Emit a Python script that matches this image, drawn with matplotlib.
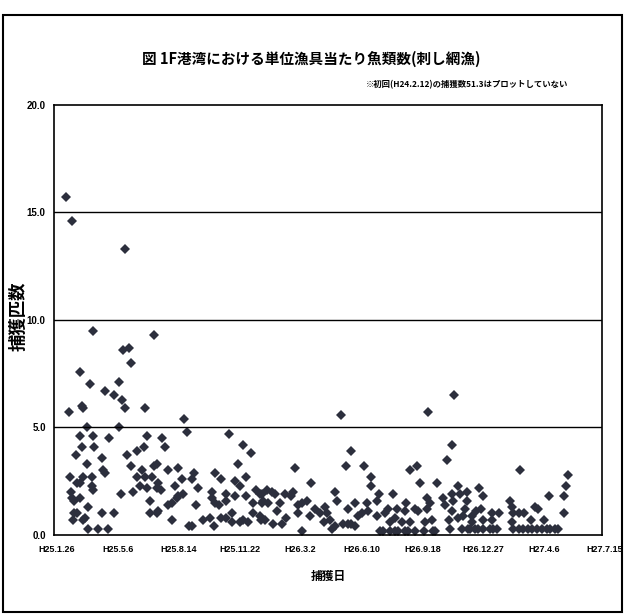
import numpy as np
import matplotlib
matplotlib.use("Agg")
import matplotlib.pyplot as plt
import matplotlib.dates as mdates
from matplotlib.patches import Rectangle
from matplotlib.transforms import ScaledTranslation

plt.rcParams['font.family'] = ['Noto Sans CJK JP', 'DejaVu Sans']

# days since H25.1.26 (2013-01-26) and fish count per unit gear
start = np.datetime64('2013-01-26')
catch_day = [
    19, 29, 117,
    64, 164, 114, 123, 126, 43, 59, 107, 84, 99, 112, 117, 46, 47, 25, 149,
    54, 106, 42, 64, 91, 153, 46, 65, 36, 78, 120, 137, 147,
    54, 81, 84, 126, 144, 164, 169, 27, 48, 62, 137, 149, 161,
    37, 43, 62, 64, 130, 141, 152, 169, 28, 110, 30, 33, 43, 157, 56,
    32, 37, 78, 99, 158, 169, 31, 48, 51, 56, 73, 88,
    213, 219, 178, 182, 288, 311, 323, 188, 204, 210, 230, 227, 171, 176, 199, 237,
    264, 275, 302, 297, 305, 315, 331, 342,
    202, 204, 212, 260, 259, 282, 282, 297, 316, 327, 341, 188, 193, 233, 264, 271,
    170, 193, 245, 256, 275, 282, 293, 293, 305, 311, 319, 327, 340, 221, 227, 262,
    471, 395, 487, 480, 509, 422, 461, 465, 338, 349, 358, 363, 379, 392, 390,
    344, 352, 371, 401, 408, 415,
    366, 401, 420, 429, 437, 445, 448, 443, 453, 483, 494, 500, 505, 514, 381,
    338, 347, 360, 374, 408, 456, 461, 474, 483, 487, 494,
    657, 614, 653, 645, 585, 596, 521, 521, 601, 629, 556, 533, 530, 612, 639, 642,
    654, 656, 664, 667, 678, 678,
    515, 530, 544, 549, 563, 560, 578, 576, 593, 597, 612, 618, 620, 648, 653, 664,
    672, 675, 686,
    535, 541, 552, 560, 565, 576, 582, 593, 607, 623, 626, 552, 571, 585, 609,
    650, 670, 680,
    765, 844, 841, 698, 705, 813, 838, 749, 752, 702, 693, 719, 730, 764, 772, 790,
    795, 754, 783, 804, 838, 705, 719, 686, 752,
    683, 691, 697, 705, 716, 721, 727, 754, 763, 771, 779, 785, 793, 801, 809, 815,
    823, 828,
]
catch_count = [
    15.7, 14.6, 13.3,
    9.5, 9.3, 8.6, 8.7, 8.0, 7.6, 7.0, 7.1, 6.7, 6.5, 6.3, 5.9, 6.0, 5.9, 5.7, 5.9,
    5.0, 5.0, 4.6, 4.6, 4.5, 4.6, 4.1, 4.1, 3.7, 3.6, 3.7, 3.9, 4.1,
    3.3, 3.0, 2.9, 3.2, 3.0, 3.2, 3.3, 2.7, 2.7, 2.7, 2.7, 2.7, 2.7,
    2.4, 2.4, 2.3, 2.1, 2.0, 2.3, 2.2, 2.2, 2.0, 1.9, 1.7, 1.6, 1.7, 1.6, 1.3,
    1.0, 1.0, 1.0, 1.0, 1.0, 1.0, 0.7, 0.7, 0.8, 0.3, 0.3, 0.3,
    5.4, 4.8, 4.5, 4.1, 4.7, 4.2, 3.8, 3.0, 3.1, 2.6, 2.9, 2.6, 2.4, 2.1, 2.3, 2.2,
    2.9, 2.6, 3.3, 2.5, 2.3, 2.7, 2.1, 1.9,
    1.7, 1.8, 1.9, 2.0, 1.7, 1.9, 1.6, 1.8, 1.8, 1.5, 1.5, 1.4, 1.5, 1.4, 1.5, 1.4,
    1.1, 0.7, 0.7, 0.8, 0.8, 0.8, 1.0, 0.6, 0.6, 0.7, 0.6, 1.0, 0.7, 0.4, 0.4, 0.4,
    5.6, 3.1, 3.9, 3.2, 3.2, 2.4, 2.0, 1.6, 1.9, 2.1, 2.0, 1.9, 1.9, 2.0, 1.8,
    1.6, 1.5, 1.5, 1.4, 1.5, 1.6,
    1.1, 1.0, 0.9, 1.2, 1.0, 1.3, 1.0, 0.6, 0.7, 1.2, 1.5, 0.9, 1.0, 1.5, 0.8,
    0.9, 0.7, 0.5, 0.5, 0.2, 0.3, 0.4, 0.5, 0.5, 0.5, 0.4,
    6.5, 5.7, 4.2, 3.5, 3.0, 3.2, 2.7, 2.3, 2.4, 2.4, 1.9, 1.9, 1.6, 1.7, 1.7, 1.4,
    1.9, 1.6, 2.3, 1.9, 2.0, 1.6,
    1.1, 0.9, 1.0, 1.2, 1.2, 0.8, 1.5, 1.1, 1.2, 1.1, 1.2, 1.5, 0.7, 0.7, 1.1, 0.8,
    0.9, 1.2, 0.9,
    0.2, 0.2, 0.2, 0.2, 0.2, 0.2, 0.2, 0.2, 0.2, 0.2, 0.2, 0.6, 0.6, 0.6, 0.6,
    0.3, 0.3, 0.3,
    3.0, 2.8, 2.3, 2.2, 1.8, 1.8, 1.8, 1.6, 1.3, 1.2, 1.1, 1.0, 1.0, 1.0, 1.0, 1.3,
    1.2, 1.0, 0.7, 0.7, 1.0, 0.7, 0.7, 0.6, 0.6,
    0.3, 0.3, 0.3, 0.3, 0.3, 0.3, 0.3, 0.3, 0.3, 0.3, 0.3, 0.3, 0.3, 0.3, 0.3, 0.3,
    0.3, 0.3,
]
y_ticks = [0.0, 5.0, 10.0, 15.0, 20.0]
tick_step_days = 100
n_ticks = 10

dates = start + np.array(catch_day).astype('timedelta64[D]')
tick_dates = start + (np.arange(n_ticks) * tick_step_days).astype('timedelta64[D]')


def heisei(x, pos=None):
    d = mdates.num2date(x)
    return "H%d.%d.%d" % (d.year - 1988, d.month, d.day)


fig = plt.figure(figsize=(6.26, 6.15), dpi=100)
ax = fig.add_axes([0.0863, 0.1301, 0.8754, 0.6992])

ax.plot(dates, catch_count, "D", color="#2c2f3d", markersize=5.4, markeredgewidth=0)

ax.set_xlim(tick_dates[0], tick_dates[-1])
ax.set_ylim(0, 20)
ax.set_xticks(tick_dates)
ax.xaxis.set_major_formatter(plt.FuncFormatter(heisei))
ax.set_yticks(y_ticks)
ax.set_yticklabels(["%.1f" % v for v in y_ticks])
for v in y_ticks[1:-1]:
    ax.axhline(v, color="black", lw=1.0)
ax.tick_params(axis="x", length=0, pad=7)
ax.tick_params(axis="y", length=0, pad=6)
for lab in ax.get_xticklabels():
    lab.set_family(['Liberation Sans', 'DejaVu Sans'])
    lab.set_fontweight('bold')
    lab.set_fontsize(6.5)
for lab in ax.get_yticklabels():
    lab.set_family(['Liberation Sans', 'DejaVu Sans'])
    lab.set_fontweight('bold')
    lab.set_fontsize(7)
shift = ScaledTranslation(3 / 100, 0, fig.dpi_scale_trans)
for lab in ax.get_xticklabels():
    lab.set_transform(lab.get_transform() + shift)
for s in ax.spines.values():
    s.set_linewidth(1.2)

fig.text(0.029, 0.485, "捕獲匹数", rotation=90, ha="center", va="center",
         fontsize=12.5, fontweight="bold")
ax.set_xlabel("捕獲日", fontsize=8.5, fontweight="bold", labelpad=12)

fig.text(0.497, 0.905, "図 1F港湾における単位漁具当たり魚類数(刺し網漁)",
         ha="center", va="center", fontsize=10.5, fontweight="bold")
fig.text(0.908, 0.862, "※初回(H24.2.12)の捕獲数51.3はプロットしていない",
         ha="right", va="center", fontsize=6, fontweight="bold")

fig.patches.append(Rectangle((0.004, 0.005), 0.99, 0.971, transform=fig.transFigure,
                             fill=False, edgecolor="black", lw=1.5))

fig.savefig("out.png", dpi=100)
